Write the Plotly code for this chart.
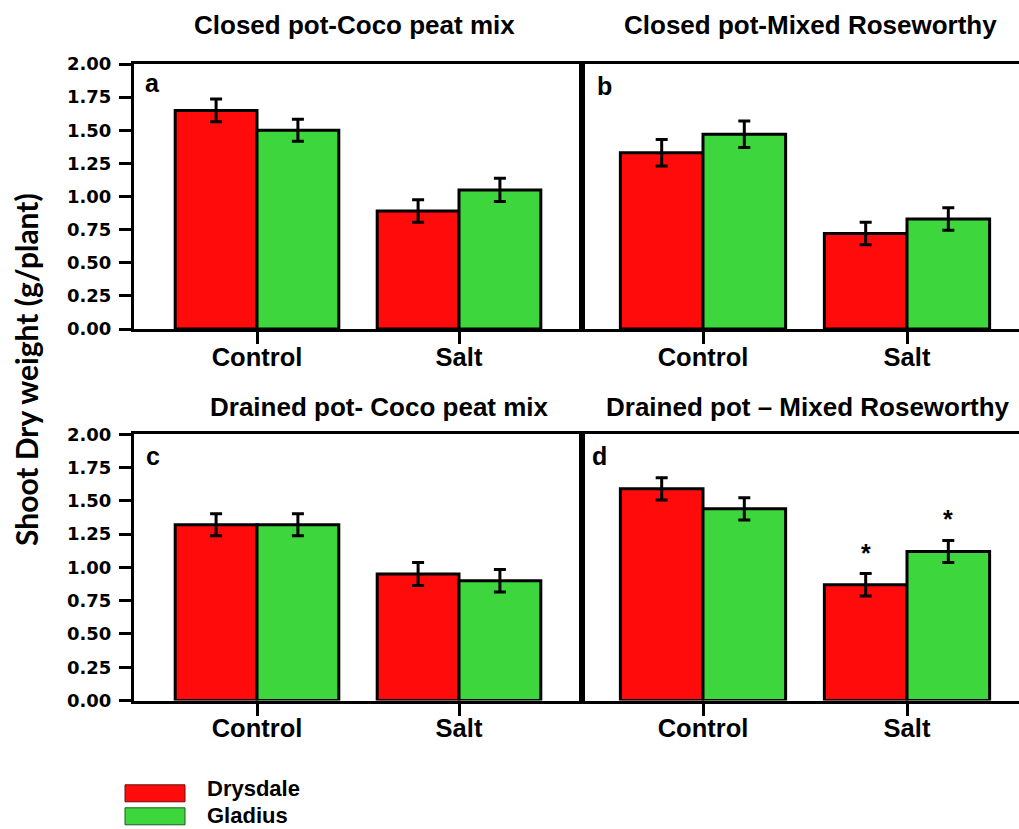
import plotly.graph_objects as go

# ---- data -------------------------------------------------------------
categories = ["Control", "Salt"]
series_names = ["Drysdale", "Gladius"]
panel_titles = [
    "Closed pot-Coco peat mix",
    "Closed pot-Mixed Roseworthy",
    "Drained pot- Coco peat mix",
    "Drained pot \u2013 Mixed Roseworthy",
]
panel_letters = ["a", "b", "c", "d"]

# mean shoot dry weight (g/plant) per panel, [Control, Salt]
drysdale_mean = [[1.65, 0.89], [1.33, 0.72], [1.32, 0.95], [1.59, 0.87]]
gladius_mean = [[1.50, 1.05], [1.47, 0.83], [1.32, 0.90], [1.44, 1.12]]
# standard errors
drysdale_se = [[0.085, 0.085], [0.10, 0.085], [0.083, 0.086], [0.083, 0.084]]
gladius_se = [[0.083, 0.087], [0.10, 0.085], [0.083, 0.085], [0.083, 0.083]]
# significance marks
drysdale_sig = [[False, False], [False, False], [False, False], [False, True]]
gladius_sig = [[False, False], [False, False], [False, False], [False, True]]

y_tickvals = [0.0, 0.25, 0.5, 0.75, 1.0, 1.25, 1.5, 1.75, 2.0]
y_ticktext = ["0.00", "0.25", "0.50", "0.75", "1.00", "1.25", "1.50", "1.75", "2.00"]
y_title = "Shoot Dry weight (g/plant)"

# ---- styling ----------------------------------------------------------
W, H = 1019, 829
RED = "#FF0B0B"
GREEN = "#3DD63D"
colors = [RED, GREEN]
legend_edges = ["#6A1010", "#1E5A1E"]
ARIAL = "Liberation Sans, Arial, sans-serif"
BAR_W = 0.405

# panel frames in pixels: left, right, top, bottom, centre of category 0, centre of category 1
frames = [
    (134, 582, 64, 329, 257, 459),
    (582, 1019, 64, 329, 703, 907),
    (134, 582, 434.3, 700.5, 257, 459),
    (582, 1019, 434.3, 700.5, 703, 907),
]
title_pos = [(354, 25), (810, 25), (379, 407), (808, 407)]
letter_pos = [(145, 83), (597, 86), (146, 456), (592, 456)]


def fx(p):
    return p / W


def fy(p):
    return 1 - p / H


fig = go.Figure()
layout = dict(
    width=W,
    height=H,
    margin=dict(l=0, r=0, t=0, b=0, autoexpand=False),
    paper_bgcolor="white",
    plot_bgcolor="white",
    barmode="overlay",
    showlegend=False,
)

annotations = []
shapes = []

for i in range(4):
    x0, x1, yt, yb, c0, c1 = frames[i]
    unit = c1 - c0
    sfx = "" if i == 0 else str(i + 1)
    xa, ya = "x" + sfx, "y" + sfx
    left_panel = i % 2 == 0

    means = [drysdale_mean[i], gladius_mean[i]]
    ses = [drysdale_se[i], gladius_se[i]]
    sigs = [drysdale_sig[i], gladius_sig[i]]
    for s in range(2):
        fig.add_trace(
            go.Bar(
                x=[0, 1],
                y=means[s],
                name=series_names[s],
                offset=-BAR_W if s == 0 else 0,
                width=BAR_W,
                marker=dict(color=colors[s], line=dict(color="black", width=3)),
                error_y=dict(type="data", array=ses[s], visible=True,
                             color="black", thickness=3, width=6),
                xaxis=xa,
                yaxis=ya,
            )
        )
        for k in range(2):
            if sigs[s][k]:
                annotations.append(dict(
                    xref=xa, yref=ya,
                    x=k + (-BAR_W / 2 if s == 0 else BAR_W / 2),
                    y=means[s][k] + ses[s][k],
                    text="<b>*</b>", showarrow=False,
                    xanchor="center", yanchor="bottom", yshift=5,
                    font=dict(family=ARIAL, size=25, color="black"),
                ))

    layout["xaxis" + sfx] = dict(
        domain=[fx(x0), fx(x1)],
        range=[(x0 - c0) / unit, (x1 - c0) / unit],
        anchor=ya,
        tickmode="array",
        tickvals=[0, 1],
        ticktext=categories,
        ticks="outside",
        ticklen=12,
        tickwidth=3,
        tickcolor="black",
        ticklabelstandoff=-9,
        showline=True,
        linecolor="black",
        linewidth=3,
        mirror=True,
        showgrid=False,
        zeroline=False,
        tickfont=dict(family=ARIAL, size=25.5, color="black", weight="bold"),
        fixedrange=True,
    )
    yax = dict(
        domain=[fy(yb), fy(yt)],
        range=[0, 2],
        anchor=xa,
        showline=True,
        linecolor="black",
        linewidth=3,
        showgrid=False,
        zeroline=False,
        fixedrange=True,
    )
    if left_panel:
        yax.update(
            tickmode="array",
            tickvals=y_tickvals,
            ticktext=y_ticktext,
            ticks="outside",
            ticklen=12,
            tickwidth=3,
            tickcolor="black",
            mirror=True,
            ticklabelstandoff=4,
            tickfont=dict(family="DejaVu Sans", size=18, color="black", weight="bold"),
        )
    else:
        yax.update(showticklabels=False, ticks="", mirror=False)
    layout["yaxis" + sfx] = yax

    tx, ty = title_pos[i]
    annotations.append(dict(
        xref="paper", yref="paper", x=fx(tx), y=fy(ty),
        text="<b>" + panel_titles[i] + "</b>", showarrow=False,
        xanchor="center", yanchor="middle",
        font=dict(family=ARIAL, size=26, color="black"),
    ))
    lx, ly = letter_pos[i]
    annotations.append(dict(
        xref="paper", yref="paper", x=fx(lx), y=fy(ly),
        text="<b>" + panel_letters[i] + "</b>", showarrow=False,
        xanchor="left", yanchor="middle", xshift=-2,
        font=dict(family=ARIAL, size=25, color="black"),
    ))

# shared y-axis title
annotations.append(dict(
    xref="paper", yref="paper", x=fx(26), y=fy(370),
    text="<b>" + y_title + "</b>", showarrow=False, textangle=-90,
    xanchor="center", yanchor="middle",
    font=dict(family="Lato", size=30, color="black"),
))

# legend swatches and names
legend_rows = [793.3, 816.3]
legend_text_y = [788.5, 815.5]
for s in range(2):
    cy = legend_rows[s]
    shapes.append(dict(
        type="rect", xref="paper", yref="paper",
        x0=fx(125), x1=fx(185), y0=fy(cy + 8.5), y1=fy(cy - 8.5),
        fillcolor=colors[s], line=dict(color=legend_edges[s], width=1),
    ))
    annotations.append(dict(
        xref="paper", yref="paper", x=fx(205), y=fy(legend_text_y[s]),
        text="<b>" + series_names[s] + "</b>", showarrow=False,
        xanchor="left", yanchor="middle",
        font=dict(family=ARIAL, size=22, color="black"),
    ))

layout["annotations"] = annotations
layout["shapes"] = shapes
fig.update_layout(**layout)

fig.write_html("out.html")
